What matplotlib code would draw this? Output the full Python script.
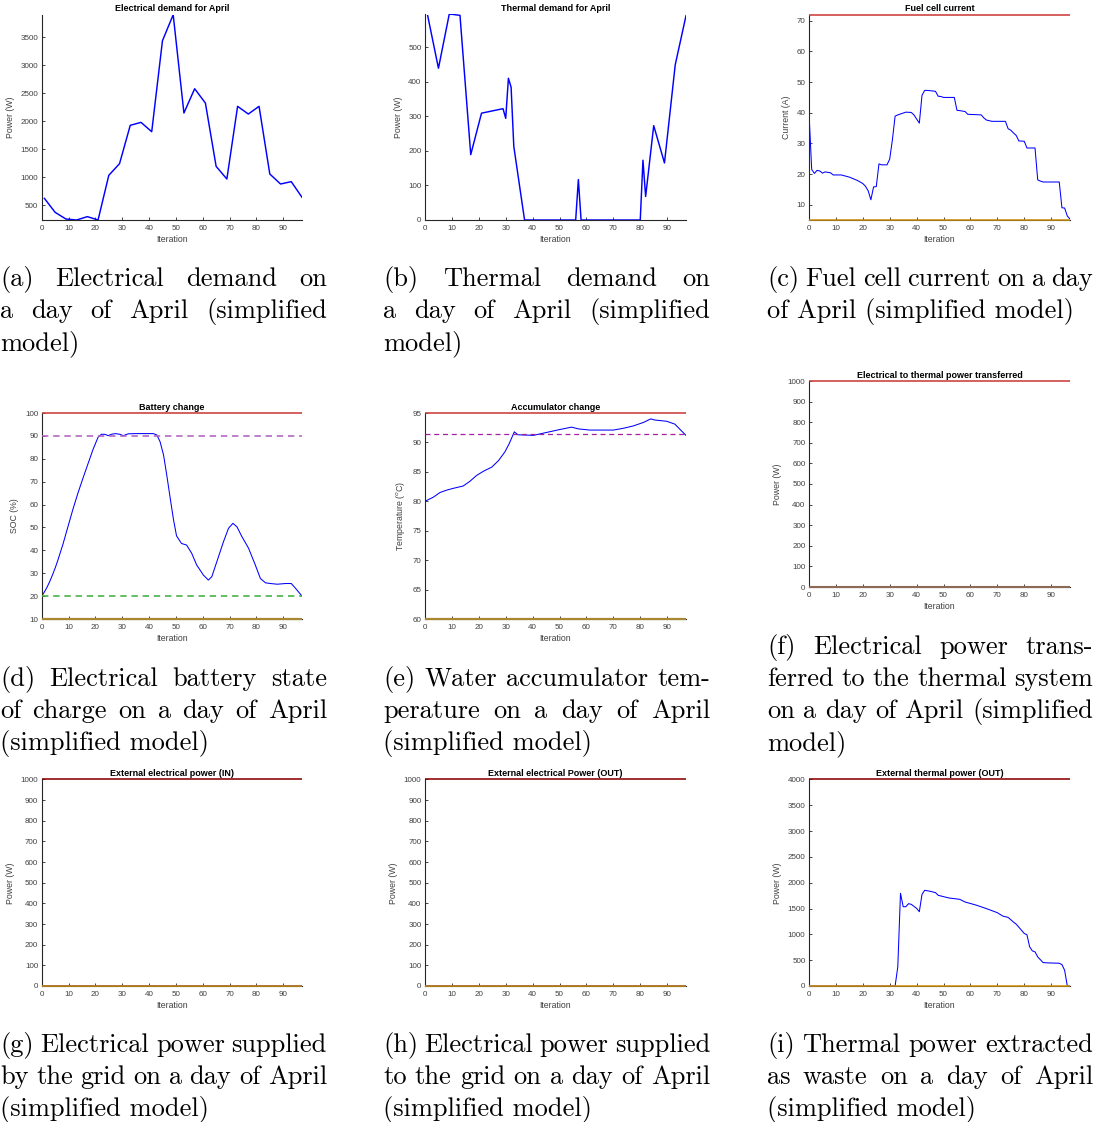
import matplotlib
matplotlib.use("Agg")
import matplotlib.pyplot as plt

# ---------------------------------------------------------------- data
# (a) electrical demand, vertices (iteration, W)
elec_it = [1, 5, 9, 13, 17, 21, 25, 29, 33, 37, 41, 45, 49, 53, 57, 61, 65, 69,
           73, 77, 81, 85, 89, 93, 97]
elec_w = [625, 375, 256, 238, 298, 238, 1036, 1244, 1929, 1982, 1815, 3440, 3905,
          2149, 2583, 2327, 1196, 970, 2268, 2131, 2268, 1060, 881, 923, 643]

# (b) thermal demand, vertices (iteration, W)
therm_it = [1, 5, 9, 10, 13, 17, 21, 29, 30, 31, 32, 33, 37, 56, 57, 58, 80, 81,
            82, 85, 89, 93, 97]
therm_w = [591, 439, 595, 595, 592, 189, 309, 322, 294, 410, 384, 213, 0, 0, 117,
           0, 0, 173, 68, 273, 165, 449, 591]

# (c) fuel cell current, vertices (iteration, A)
fc_it = [0, 1, 2, 3, 4, 5, 6, 8, 9, 12, 15, 18, 20, 21, 22, 23, 24, 25, 26, 27,
         29, 30, 31, 32, 33, 35, 36, 38, 39, 41, 42, 43, 44, 47, 48, 49, 50, 54,
         55, 56, 58, 59, 64, 65, 66, 68, 73, 74, 75, 76, 77, 78, 80, 81, 84, 85,
         86, 87, 93, 94, 95, 96, 97]
fc_a = [39.9, 21.5, 20.2, 21.2, 21.0, 20.3, 20.7, 20.4, 19.7, 19.7, 19.0, 17.9,
        16.9, 16.0, 14.5, 11.6, 15.8, 15.9, 23.3, 23.0, 23.0, 24.9, 31.2, 38.9,
        39.3, 39.9, 40.2, 40.1, 39.3, 36.6, 45.7, 47.3, 47.3, 47.0, 45.4, 45.3,
        45.0, 45.0, 40.8, 40.7, 40.4, 39.5, 39.3, 38.3, 37.6, 37.2, 37.2, 34.8,
        34.3, 33.4, 32.6, 30.8, 30.7, 28.5, 28.5, 18.1, 17.7, 17.4, 17.4, 9.0,
        8.9, 6.3, 5.3]
fc_max, fc_min = 72, 5

# (d) battery state of charge, vertices (iteration, %)
soc_it = [0, 1, 2, 3, 4, 5, 6, 7.9, 9.75, 11.6, 13.5, 15.4, 17.25, 19.1, 21, 22.25,
          23.5, 24.75, 26, 27.5, 29.1, 30.4, 32.25, 34.75, 41.6, 42.9, 44.1, 45.4,
          46.6, 47.9, 49.1, 50.25, 52.1, 54, 55.9, 57.75, 60.25, 62.1, 63.4, 65.25,
          67.75, 69.6, 71.25, 72.75, 74.6, 77.1, 79.6, 81.5, 83.4, 85.25, 87.75,
          90.9, 93, 94.6, 97]
soc_pct = [20, 21.8, 23.9, 26.4, 29.2, 32.2, 35.6, 42.6, 50.2, 57.8, 65.0, 71.6,
           77.8, 84.0, 89.4, 90.7, 90.7, 90.1, 90.7, 91, 90.7, 90.1, 90.9, 91, 91,
           90.4, 87.5, 81.7, 72.9, 62.7, 53.5, 46.3, 43, 42.3, 38.7, 33.6, 29.2,
           27, 28.5, 35, 43.8, 49.6, 51.8, 50.3, 46, 40.9, 33.6, 27.7, 25.8, 25.5,
           25.2, 25.5, 25.5, 23.4, 20]
soc_max, soc_high, soc_low, soc_min = 100, 90, 20, 10

# (e) accumulator temperature, vertices (iteration, degC)
acc_it = [0, 3.1, 5.6, 8.1, 10.5, 14.2, 16.7, 19.2, 21.7, 24.8, 27.3, 29.7, 31.3,
          33.2, 34.5, 40.3, 45.2, 50.2, 54.5, 57, 61.3, 70, 73.7, 77.4, 81.2,
          83.9, 85.5, 89.8, 92.9, 94.8, 97]
acc_t = [80.0, 80.7, 81.5, 81.9, 82.2, 82.6, 83.4, 84.4, 85.1, 85.8, 86.9, 88.4,
         89.8, 91.8, 91.3, 91.2, 91.7, 92.2, 92.6, 92.3, 92.1, 92.1, 92.4, 92.8,
         93.4, 94.0, 93.8, 93.6, 93.1, 92.2, 91.2]
acc_max, acc_ref, acc_min = 95, 91.5, 60

# (f), (g), (h) power flows that stay at zero, vertices (iteration, W)
zero_it = [0, 97]
zero_w = [0, 0]
flow_max = 1000

# (i) external thermal power out, vertices (iteration, W)
tout_it = [0, 32, 33, 34, 35, 36, 37, 38, 40, 41, 42, 43, 45, 47, 48, 50, 52, 56,
           58, 62, 66, 68, 70, 72, 74, 76, 77, 80, 81, 82, 83, 84, 85, 87, 89, 93,
           94, 95, 96, 97]
tout_w = [0, 0, 370, 1796, 1536, 1536, 1595, 1582, 1504, 1439, 1776, 1854, 1835,
          1809, 1757, 1731, 1705, 1679, 1627, 1569, 1498, 1459, 1420, 1355, 1329,
          1238, 1199, 1018, 992, 759, 681, 661, 564, 454, 447, 441, 415, 305, 0, 0]
tout_max = 4000

xticks = list(range(0, 100, 10))

captions = {
    "a": ["(a) Electrical demand on", "a day of April (simplified", "model)"],
    "b": ["(b) Thermal demand on", "a day of April (simplified", "model)"],
    "c": ["(c) Fuel cell current on a day", "of April (simplified model)"],
    "d": ["(d) Electrical battery state", "of charge on a day of April",
          "(simplified model)"],
    "e": ["(e) Water accumulator tem-", "perature on a day of April",
          "(simplified model)"],
    "f": ["(f) Electrical power trans-", "ferred to the thermal system",
          "on a day of April (simplified", "model)"],
    "g": ["(g) Electrical power supplied", "by the grid on a day of April",
          "(simplified model)"],
    "h": ["(h) Electrical power supplied", "to the grid on a day of April",
          "(simplified model)"],
    "i": ["(i) Thermal power extracted", "as waste on a day of April",
          "(simplified model)"],
}

# ---------------------------------------------------------------- style
W, H = 1100, 1122
plt.rcParams["font.family"] = ["Liberation Sans", "DejaVu Sans"]
fig = plt.figure(figsize=(W / 100, H / 100), dpi=100)

AX_COL = "#262626"
LBL_COL = "#404040"
BLUE = "#0000ff"
cols = [(41.7, 302), (425, 686), (809, 1070)]


def make_ax(col, top, bottom):
    x0, x1 = cols[col]
    ax = fig.add_axes([x0 / W, 1 - bottom / H, (x1 - x0) / W, (bottom - top) / H])
    for s in ("top", "right"):
        ax.spines[s].set_visible(False)
    for s in ("left", "bottom"):
        ax.spines[s].set_color(AX_COL)
        ax.spines[s].set_linewidth(0.8)
    ax.tick_params(direction="in", length=2.5, width=0.6, color=AX_COL,
                   labelcolor=LBL_COL, labelsize=5.8, pad=2.5)
    ax.tick_params(axis="x", pad=3.5)
    ax.set_xlim(0, 97)
    ax.set_xticks(xticks)
    ax.set_xlabel("Iteration", fontsize=6.3, color=LBL_COL, labelpad=2)
    return ax


def finish(ax, title, ylabel):
    ax.set_title(title, fontsize=6.5, fontweight="bold", pad=2.5)
    ax.set_ylabel(ylabel, fontsize=6.3, color=LBL_COL, labelpad=4)


def hline(ax, y, color, ls="-", lw=1.15):
    ax.plot([0, 97], [y, y], color=color, lw=lw, ls=ls, clip_on=False,
            solid_capstyle="butt", zorder=3)


# (a)
ax = make_ax(0, 14.7, 220)
ax.plot(elec_it, elec_w, color=BLUE, lw=1.05)
ax.set_ylim(min(elec_w), max(elec_w))
ax.set_yticks(range(500, 4000, 500))
finish(ax, "Electrical demand for April", "Power (W)")

# (b)
ax = make_ax(1, 14.3, 220)
ax.plot(therm_it, therm_w, color=BLUE, lw=1.05)
ax.set_ylim(0, max(therm_w))
ax.set_yticks(range(0, 600, 100))
finish(ax, "Thermal demand for April", "Power (W)")

# (c)
ax = make_ax(2, 14.7, 220)
ax.plot(fc_it, fc_a, color=BLUE, lw=0.75)
hline(ax, fc_max, "#cc3b3b")
hline(ax, fc_min, "#cc9010")
ax.set_ylim(fc_min, fc_max)
ax.set_yticks(range(10, 80, 10))
finish(ax, "Fuel cell current", "Current (A)")

# (d)
ax = make_ax(0, 413, 619)
ax.plot(soc_it, soc_pct, color=BLUE, lw=0.75)
hline(ax, soc_max, "#cc3b3b")
hline(ax, soc_high, "#b060c0", ls=(0, (4, 3)))
hline(ax, soc_low, "#40b040", ls=(0, (4, 3)))
hline(ax, soc_min, "#a88830", lw=1.6)
ax.set_ylim(soc_min, soc_max)
ax.set_yticks(range(10, 110, 10))
finish(ax, "Battery change", "SOC (%)")

# (e)
ax = make_ax(1, 413, 619)
ax.plot(acc_it, acc_t, color=BLUE, lw=0.75)
hline(ax, acc_max, "#cc3b3b")
hline(ax, acc_ref, "#a020a0", ls=(0, (4, 3)), lw=0.9)
hline(ax, acc_min, "#a88830", lw=1.6)
ax.set_ylim(acc_min, acc_max)
ax.set_yticks(range(60, 100, 5))
finish(ax, "Accumulator change", "Temperature ($^o$C)")

# (f)
ax = make_ax(2, 381, 587)
ax.plot(zero_it, zero_w, color=BLUE, lw=1.2)
hline(ax, flow_max, "#cc3b3b")
hline(ax, 0, "#8c6a55", lw=1.5)
ax.set_ylim(0, flow_max)
ax.set_yticks(range(0, 1100, 100))
finish(ax, "Electrical to thermal power transferred", "Power (W)")

# (g)
ax = make_ax(0, 779.5, 986)
ax.plot(zero_it, zero_w, color=BLUE, lw=1.2)
hline(ax, flow_max, "#8b0000")
hline(ax, 0, "#d09010")
ax.set_ylim(0, flow_max)
ax.set_yticks(range(0, 1100, 100))
finish(ax, "External electrical power (IN)", "Power (W)")

# (h)
ax = make_ax(1, 779.5, 986)
ax.plot(zero_it, zero_w, color=BLUE, lw=1.2)
hline(ax, flow_max, "#8b0000")
hline(ax, 0, "#d09010")
ax.set_ylim(0, flow_max)
ax.set_yticks(range(0, 1100, 100))
finish(ax, "External electrical Power (OUT)", "Power (W)")

# (i)
ax = make_ax(2, 779.5, 986)
ax.plot(tout_it, tout_w, color=BLUE, lw=0.75)
hline(ax, tout_max, "#8b0000")
hline(ax, 0, "#d09010")
ax.set_ylim(0, tout_max)
ax.set_yticks(range(0, 4500, 500))
finish(ax, "External thermal power (OUT)", "Power (W)")

# ---------------------------------------------------------------- captions
CAP_FONT = dict(family="cmr10", size=19, color="black")
renderer = fig.canvas.get_renderer()
cap_cols = [(0, 327), (383, 710), (767, 1093)]
LINE = 32


def caption(lines, col, first_base):
    x0, x1 = cap_cols[col]
    for i, line in enumerate(lines):
        y = 1 - (first_base + i * LINE) / H
        words = line.split()
        last = i == len(lines) - 1
        if last or len(words) == 1:
            fig.text(x0 / W, y, line, va="baseline", ha="left", **CAP_FONT)
            continue
        texts = [fig.text(0, y, w, va="baseline", ha="left", **CAP_FONT) for w in words]
        widths = [t.get_window_extent(renderer).width for t in texts]
        gap = (x1 - x0 - sum(widths)) / (len(words) - 1)
        x = x0
        for t, w in zip(texts, widths):
            t.set_x(x / W)
            x += w + gap


caption(captions["a"], 0, 286)
caption(captions["b"], 1, 286)
caption(captions["c"], 2, 286)
caption(captions["d"], 0, 686)
caption(captions["e"], 1, 686)
caption(captions["f"], 2, 654)
caption(captions["g"], 0, 1052)
caption(captions["h"], 1, 1052)
caption(captions["i"], 2, 1052)

fig.savefig("out.png", dpi=100)
